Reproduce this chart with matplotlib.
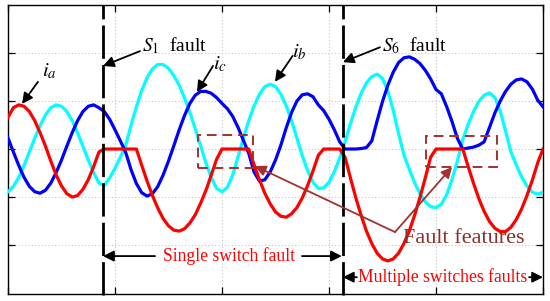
import numpy as np
import matplotlib
matplotlib.use('Agg')
import matplotlib.pyplot as plt
from matplotlib.patches import Rectangle

plt.rcParams['font.family'] = ['Liberation Serif', 'DejaVu Serif']
plt.rcParams['mathtext.fontset'] = 'stix'

# time axis (one fundamental period per x unit)
t = np.round(np.arange(0, 5.001, 0.05), 2)

# phase currents
i_a = [0.66, 0.86, 0.92, 0.89, 0.78, 0.59, 0.34, 0.06, -0.25, -0.54,
       -0.77, -0.93, -1.00, -0.97, -0.84, -0.64, -0.37, -0.06, 0.00, 0.00,
       0.00, 0.00, 0.00, 0.00, 0.00, -0.34, -0.67, -0.97, -1.23, -1.45,
       -1.60, -1.69, -1.71, -1.66, -1.54, -1.37, -1.13, -0.86, -0.54, -0.21,
       0.00, 0.00, 0.00, 0.00, 0.00, 0.00, -0.33, -0.64, -0.92, -1.14,
       -1.31, -1.40, -1.42, -1.35, -1.22, -1.02, -0.76, -0.46, -0.13, 0.00,
       0.00, 0.00, 0.00, -0.17, -0.60, -1.01, -1.38, -1.71, -1.97, -2.17,
       -2.29, -2.33, -2.29, -2.17, -1.97, -1.71, -1.38, -1.01, -0.60, -0.17,
       0.00, 0.00, 0.00, 0.00, 0.00, 0.00, -0.36, -0.71, -1.03, -1.30,
       -1.51, -1.65, -1.72, -1.72, -1.63, -1.47, -1.25, -0.97, -0.65, -0.29,
       0.00]
i_b = [-0.89, -0.78, -0.59, -0.34, -0.06, 0.23, 0.49, 0.71, 0.86, 0.92,
       0.89, 0.78, 0.59, 0.34, 0.06, -0.23, -0.49, -0.71, -0.76, -0.60,
       -0.40, -0.17, 0.08, 0.50, 0.88, 1.22, 1.49, 1.67, 1.76, 1.76,
       1.68, 1.53, 1.33, 1.06, 0.76, 0.42, 0.07, -0.29, -0.60, -0.82,
       -0.89, -0.80, -0.54, -0.16, 0.23, 0.59, 0.90, 1.14, 1.30, 1.35,
       1.30, 1.14, 0.90, 0.59, 0.23, -0.14, -0.45, -0.69, -0.82, -0.81,
       -0.69, -0.47, -0.19, 0.15, 0.53, 0.87, 1.16, 1.38, 1.51, 1.56,
       1.47, 1.21, 0.81, 0.32, -0.12, -0.42, -0.70, -0.93, -1.10, -1.20,
       -1.22, -1.15, -0.95, -0.63, -0.25, 0.20, 0.51, 0.78, 0.99, 1.12,
       1.17, 1.07, 0.79, 0.38, -0.06, -0.33, -0.58, -0.77, -0.90, -0.94,
       -0.90]
i_c = [0.23, -0.06, -0.34, -0.59, -0.78, -0.89, -0.92, -0.86, -0.71, -0.49,
       -0.23, 0.06, 0.34, 0.59, 0.78, 0.89, 0.92, 0.86, 0.78, 0.62,
       0.40, 0.17, -0.07, -0.43, -0.72, -0.91, -0.98, -0.93, -0.78, -0.54,
       -0.25, 0.07, 0.40, 0.70, 0.95, 1.12, 1.20, 1.20, 1.16, 1.07,
       0.95, 0.84, 0.68, 0.45, 0.18, -0.09, -0.48, -0.67, -0.64, -0.48,
       -0.23, 0.08, 0.44, 0.76, 1.00, 1.13, 1.15, 1.09, 0.92, 0.80,
       0.62, 0.40, 0.15, 0.00, 0.00, 0.00, 0.01, 0.03, 0.17, 0.59,
       0.99, 1.33, 1.60, 1.80, 1.90, 1.92, 1.87, 1.78, 1.64, 1.46,
       1.24, 1.15, 0.88, 0.57, 0.22, 0.00, 0.02, 0.04, 0.08, 0.15,
       0.45, 0.75, 1.00, 1.20, 1.35, 1.44, 1.46, 1.40, 1.25, 1.02,
       0.88]

fault_times = [0.888, 3.13]
boxes = [(1.78, -0.40, 0.51, 0.69), (3.91, -0.37, 0.66, 0.64)]

fig = plt.figure(figsize=(5.5, 3.01), dpi=100)
ax = fig.add_axes([8 / 550, 7 / 301, 535 / 550, 289 / 301])

ax.plot(t, i_b, color='#00ffff', lw=2.3, zorder=3)
ax.plot(t, i_c, color='#0000ff', lw=2.3, zorder=4)
ax.plot(t, i_a, color='#ff0000', lw=2.3, zorder=5)

for ft in fault_times:
    ax.plot([ft, ft], [-3.05, 3.0], color='black', lw=2.0,
            linestyle=(0, (12, 2.2)), zorder=6, clip_on=False)

brown = '#a3322c'
for (x0, y0, w, h) in boxes:
    ax.add_patch(Rectangle((x0, y0), w, h, fill=False, ec=brown, lw=1.4,
                           linestyle=(0, (5, 3)), zorder=7))

ax.set_xlim(0, 5)
ax.set_ylim(-3.02, 3.0)
ax.set_xticks(np.arange(0, 6, 1))
ax.set_yticks(np.arange(-2, 3, 1))
ax.set_xticklabels([])
ax.set_yticklabels([])
ax.tick_params(direction='in', length=5, width=0.9, top=True, right=True)
ax.grid(True, linestyle=(0, (1, 2)), color='#c4c4c4', lw=0.8)
for s in ax.spines.values():
    s.set_linewidth(1.0)

arr = dict(arrowstyle='-|>', color='black', lw=1.3, mutation_scale=16,
           shrinkA=0, shrinkB=0)

# fault labels
ax.annotate('', xy=(0.888, 1.73), xytext=(1.234, 2.04), arrowprops=arr, zorder=8)
ax.text(1.25, 2.15, '$S_1$  fault', fontsize=14, va='center', ha='left')
ax.annotate('', xy=(3.13, 1.81), xytext=(3.477, 2.12), arrowprops=arr, zorder=8)
ax.text(3.50, 2.15, '$S_6$  fault', fontsize=14, va='center', ha='left')

# phase labels
ax.annotate('', xy=(0.131, 0.94), xytext=(0.28, 1.40), arrowprops=arr, zorder=8)
ax.text(0.383, 1.62, '$i_a$', fontsize=15, va='center', ha='center')
ax.annotate('', xy=(1.766, 1.19), xytext=(1.916, 1.73), arrowprops=arr, zorder=8)
ax.text(1.98, 1.77, '$i_c$', fontsize=15, va='center', ha='center')
ax.annotate('', xy=(2.495, 1.40), xytext=(2.66, 1.94), arrowprops=arr, zorder=8)
ax.text(2.72, 2.02, '$i_b$', fontsize=15, va='center', ha='center')

# fault features
barr = dict(arrowstyle='-|>', color=brown, lw=1.3, mutation_scale=16,
            shrinkA=0, shrinkB=0)
ax.annotate('', xy=(2.308, -0.354), xytext=(3.617, -1.73), arrowprops=barr, zorder=8)
ax.annotate('', xy=(4.15, -0.375), xytext=(3.617, -1.73), arrowprops=barr, zorder=8)
ax.text(3.69, -1.96, 'Fault features', fontsize=16, color='#8b2f2a',
        va='baseline', ha='left', zorder=9)

# fault intervals
ax.annotate('', xy=(0.888, -2.23), xytext=(1.374, -2.23), arrowprops=arr, zorder=8)
ax.annotate('', xy=(3.12, -2.23), xytext=(2.748, -2.23), arrowprops=arr, zorder=8)
ax.text(2.07, -2.23, 'Single switch fault', fontsize=12.7, color='red',
        va='center', ha='center')
ax.annotate('', xy=(3.13, -2.67), xytext=(3.26, -2.67), arrowprops=arr, zorder=8)
ax.annotate('', xy=(5.0, -2.67), xytext=(4.87, -2.67), arrowprops=arr, zorder=8,
            annotation_clip=False)
ax.text(4.065, -2.67, 'Multiple switches faults', fontsize=12.7, color='red',
        va='center', ha='center')

fig.savefig('out.png', dpi=100)
